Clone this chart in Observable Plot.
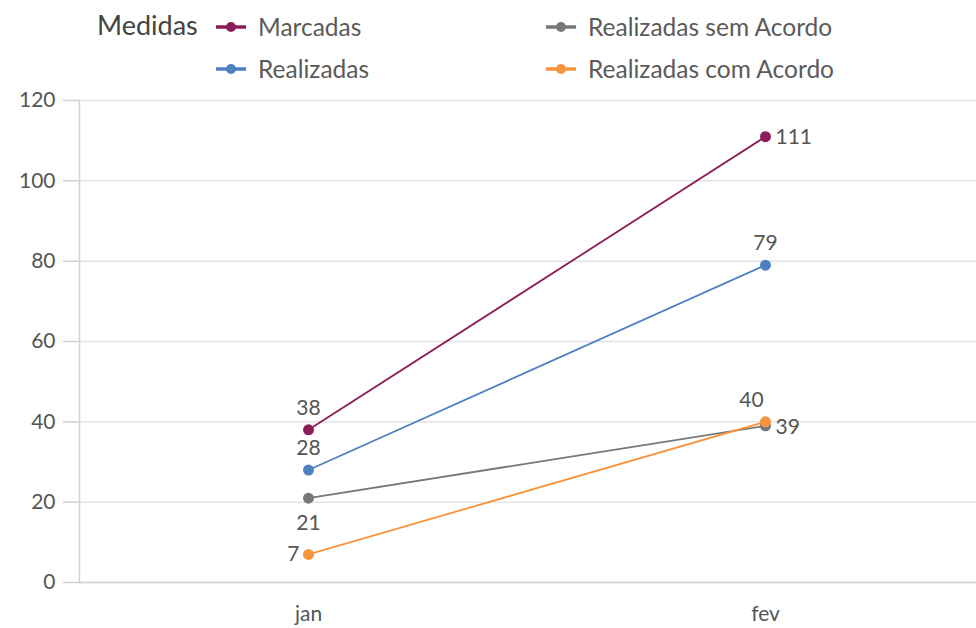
<!DOCTYPE html>
<html>
<head>
<meta charset="utf-8">
<script src="https://cdn.jsdelivr.net/npm/d3@7"></script>
<script src="https://cdn.jsdelivr.net/npm/@observablehq/plot@0.6"></script>
<style>
  body { margin: 0; background: #fff; font-family: Lato, "Noto Sans", sans-serif; }
  #legend { position: relative; height: 78px; width: 976px; color: #5a5a5a; }
  #legend .title { position: absolute; left: 97px; top: 9px; font-size: 27px; line-height: 32px; color: #444; }
  #legend .item { position: absolute; display: flex; align-items: center; font-size: 24.5px; line-height: 30px; }
  #legend .item svg { margin-right: 12px; }
  #chart svg { display: block; }
</style>
</head>
<body>
<div id="legend"></div>
<div id="chart"></div>
<script>
const months = ["jan", "fev"];
const seriesNames = ["Marcadas", "Realizadas", "Realizadas sem Acordo", "Realizadas com Acordo"];
const marcadas = [38, 111];
const realizadas = [28, 79];
const semAcordo = [21, 39];
const comAcordo = [7, 40];
const seriesColors = ["#8c1d58", "#4f81c2", "#777777", "#f7943d"];
const yTicks = [0, 20, 40, 60, 80, 100, 120];

const values = [marcadas, realizadas, semAcordo, comAcordo];
const data = [];
seriesNames.forEach((s, i) => months.forEach((m, j) => data.push({series: s, month: m, value: values[i][j]})));

// label placement per point
const placement = {
  "Marcadas|jan": "top", "Marcadas|fev": "right",
  "Realizadas|jan": "top", "Realizadas|fev": "top",
  "Realizadas sem Acordo|jan": "bottom", "Realizadas sem Acordo|fev": "right",
  "Realizadas com Acordo|jan": "left", "Realizadas com Acordo|fev": "topleft"
};
const pick = p => data.filter(d => placement[d.series + "|" + d.month] === p);

// legend
const legend = document.getElementById("legend");
const t = document.createElement("div");
t.className = "title"; t.textContent = "Medidas"; legend.appendChild(t);
const legendPos = [[216, 12], [216, 54], [546, 12], [546, 54]];
seriesNames.forEach((s, i) => {
  const it = document.createElement("div");
  it.className = "item";
  it.style.left = legendPos[i][0] + "px";
  it.style.top = legendPos[i][1] + "px";
  it.innerHTML = `<svg width="30" height="12"><line x1="0" x2="30" y1="6" y2="6" stroke="${seriesColors[i]}" stroke-width="3.5"/><circle cx="15" cy="6" r="5" fill="${seriesColors[i]}"/></svg><span>${s}</span>`;
  legend.appendChild(it);
});

const color = {domain: seriesNames, range: seriesColors};
const labelStyle = {fill: "#555", fontSize: 21, text: d => String(d.value)};

const chart = Plot.plot({
  width: 976,
  height: 550,
  marginTop: 22,
  marginBottom: 46,
  marginLeft: 79,
  marginRight: 0,
  style: {fontFamily: "Lato, 'Noto Sans', sans-serif", color: "#555"},
  x: {type: "point", domain: months, range: [79, 993], label: null},
  y: {domain: [0, 120], ticks: yTicks, label: null},
  color,
  marks: [
    Plot.gridY(yTicks, {stroke: "#e3e3e3", strokeOpacity: 1, strokeWidth: 1.5}),
    Plot.ruleY([0], {stroke: "#d2d2d2", strokeWidth: 1.5}),
    Plot.frame({anchor: "left", stroke: "#d2d2d2", strokeWidth: 1.5}),
    Plot.axisY({ticks: yTicks, tickSize: 16, tickPadding: 8, fontSize: 21, fill: "#555", stroke: "#d2d2d2", strokeWidth: 1.5}),
    Plot.axisX({tickSize: 0, tickPadding: 24, fontSize: 21, fill: "#555"}),
    Plot.line(data, {x: "month", y: "value", z: "series", stroke: "series", strokeWidth: 1.8}),
    Plot.dot(data, {x: "month", y: "value", fill: "series", r: 5.5}),
    Plot.text(pick("top"), {x: "month", y: "value", dy: -22, ...labelStyle}),
    Plot.text(pick("topleft"), {x: "month", y: "value", dy: -22, dx: -14, ...labelStyle}),
    Plot.text(pick("bottom"), {x: "month", y: "value", dy: 25, ...labelStyle}),
    Plot.text(pick("right"), {x: "month", y: "value", dx: 10, dy: 1, textAnchor: "start", ...labelStyle}),
    Plot.text(pick("left"), {x: "month", y: "value", dx: -9, textAnchor: "end", ...labelStyle})
  ]
});
document.getElementById("chart").appendChild(chart);
</script>
</body>
</html>
